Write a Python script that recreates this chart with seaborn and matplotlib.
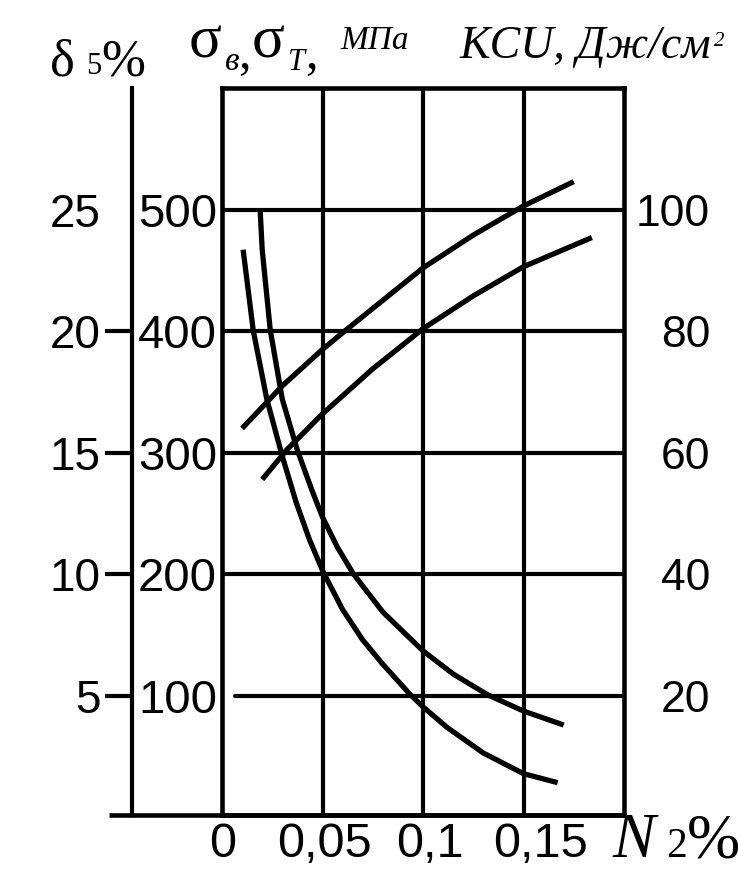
import matplotlib
matplotlib.use('Agg')
import matplotlib.pyplot as plt
import seaborn as sns
from matplotlib.transforms import ScaledTranslation

# nitrogen content, %  /  property values
n2_sigma_b = [0.010, 0.030, 0.050, 0.061, 0.100, 0.125, 0.150, 0.175]
sigma_b = [320, 355, 385, 400, 452, 479, 503, 523]

n2_sigma_t = [0.020, 0.032, 0.050, 0.075, 0.100, 0.125, 0.150, 0.184]
sigma_t = [278, 302, 332, 369, 402, 429, 453, 477]

n2_kcu = [0.019, 0.020, 0.024, 0.030, 0.0375, 0.045, 0.050, 0.0575, 0.0655,
          0.080, 0.100, 0.115, 0.132, 0.150, 0.170]
kcu = [99.8, 93.4, 80.2, 68.8, 60.4, 53.6, 49.4, 44.4, 40.0,
       33.8, 27.4, 23.6, 20.2, 17.5, 15.2]

n2_delta = [0.0105, 0.0155, 0.0223, 0.030, 0.037, 0.0435, 0.0503, 0.060,
            0.070, 0.080, 0.0937, 0.100, 0.112, 0.130, 0.150, 0.167]
delta5 = [23.35, 20.05, 17.2, 14.85, 12.93, 11.43, 10.1, 8.55,
          7.3, 6.3, 5.05, 4.55, 3.7, 2.65, 1.8, 1.43]

x_ticks = [0, 0.05, 0.1, 0.15]
x_labels = ['0', '0,05', '0,1', '0,15']
sigma_ticks = [100, 200, 300, 400, 500]
kcu_ticks = [20, 40, 60, 80, 100]
delta_ticks = [5, 10, 15, 20, 25]

sns.set_theme(style='white', rc={'text.color': 'black', 'xtick.color': 'black',
                                 'ytick.color': 'black', 'axes.edgecolor': 'black'})
plt.rcParams['font.family'] = ['Liberation Sans', 'DejaVu Sans']

W, H = 741, 871
fig = plt.figure(figsize=(W / 100, H / 100), dpi=100)
ax = fig.add_axes([222 / W, 1 - 815 / H, (624 - 222) / W, (815 - 88) / H])
ax.set_xlim(0, 0.2)
ax.set_ylim(2, 600)
ax_k = ax.twinx()
ax_k.set_ylim(0.4, 120)
ax_d = ax.twinx()
ax_d.set_ylim(0.1, 30)

lw_frame = 3.3
for s in ax.spines.values():
    s.set_linewidth(lw_frame)
    s.set_color('black')
for s in ax_k.spines.values():
    s.set_visible(False)
for name, s in ax_d.spines.items():
    s.set_visible(name == 'left')
ax_d.spines['left'].set_position(('outward', 90 * 0.72))
ax_d.spines['left'].set_linewidth(3.0)
ax_d.spines['left'].set_color('black')

# bottom line runs out past the delta axis
ax.axhline(2, xmin=-(222 - 109) / 402, xmax=1, color='black', lw=lw_frame,
           clip_on=False, solid_capstyle='butt')

# grid
for v in x_ticks[1:]:
    ax.axvline(v, color='black', lw=3.0)
for h in sigma_ticks:
    ax.axhline(h, xmin=0.032 if h == 100 else 0, xmax=1, color='black', lw=3.0)

# curves
kw = dict(color='black', linewidth=3.8, solid_capstyle='butt')
sns.lineplot(x=n2_sigma_b, y=sigma_b, ax=ax, **kw)
sns.lineplot(x=n2_sigma_t, y=sigma_t, ax=ax, **kw)
sns.lineplot(x=n2_kcu, y=kcu, ax=ax_k, **kw)
sns.lineplot(x=n2_delta, y=delta5, ax=ax_d, **kw)
for a in (ax, ax_k, ax_d):
    a.set_xlabel('')
    a.set_ylabel('')

# x ticks
ax.set_xticks(x_ticks, x_labels)
ax.tick_params(axis='x', length=0, pad=5, labelsize=35)
for lab, dx in zip(ax.get_xticklabels(), [1, 2, 7, 17]):
    lab.set_transform(lab.get_transform() + ScaledTranslation(dx / 100, 0, fig.dpi_scale_trans))

# sigma ticks (left of main frame)
ax.set_yticks(sigma_ticks)
ax.tick_params(axis='y', length=0, pad=3.6, labelsize=34, left=False, right=False,
               labelleft=True, labelright=False)

# KCU ticks (right)
ax_k.set_yticks(kcu_ticks)
ax_k.tick_params(axis='y', length=0, pad=62, labelsize=32, right=False,
                 labelright=True, labelleft=False)
for lab in ax_k.get_yticklabels():
    lab.set_ha('right')

# delta ticks (outer left axis)
ax_d.set_yticks(delta_ticks)
ax_d.tick_params(axis='y', left=True, right=False, labelleft=True, labelright=False,
                 length=19.4, width=3.0, pad=3, labelsize=33, direction='out')
ax_d.yaxis.get_major_ticks()[-1].tick1line.set_visible(False)

# headers
serif = 'Liberation Serif'


def put(x, y, s, size, style='normal'):
    return fig.text(x / W, 1 - y / H, s, fontsize=size, family=serif, style=style,
                    va='baseline', ha='left')


put(50, 76, 'δ', 38)
put(86, 74, '5', 22)
put(101, 76, '%', 38)

put(189, 57, 'σ', 44)
put(225, 70, 'в', 24, 'italic')
put(238, 68, ',', 36)
put(252, 57, 'σ', 44)
put(288, 70, 'Т', 22, 'italic')
put(305, 68, ',', 36)
put(340, 49, 'MПа', 24, 'italic')

kcu_txt = put(460, 58, 'KCU, Дж/см', 33, 'italic')
fig.canvas.draw()
x_end = kcu_txt.get_window_extent().x1
put(x_end + 2, 46, '2', 15, 'italic')

put(612, 857, 'N', 46, 'italic')
put(666, 857, '2', 30)
put(687, 857, '%', 46)

fig.savefig('out.png', dpi=100)
